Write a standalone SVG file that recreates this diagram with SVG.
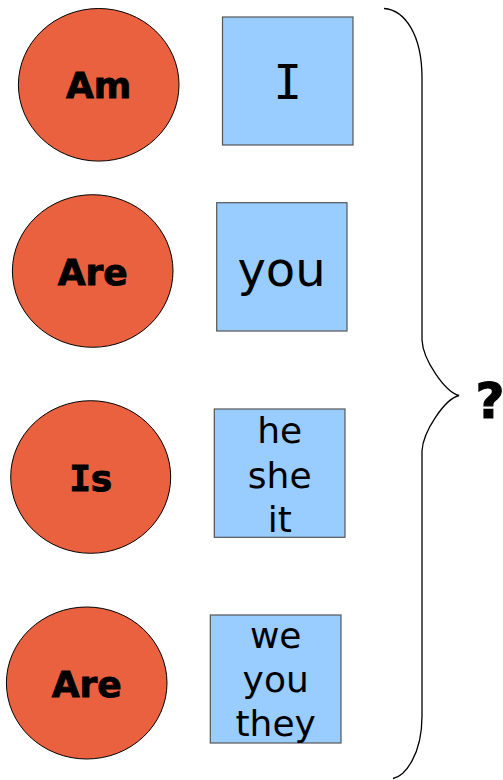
<svg xmlns="http://www.w3.org/2000/svg" width="503" height="780" viewBox="0 0 503 780">
<style>
.c{fill:#EA613F;stroke:#000;stroke-width:1}
.r{fill:#99CCFF;stroke:#555;stroke-width:1.2}
.v{font-family:"DejaVu Sans",Verdana,sans-serif;font-weight:bold;font-size:36px;text-anchor:middle;fill:#000;stroke:#000;stroke-width:0.9}
.p{font-family:"DejaVu Sans",Verdana,sans-serif;font-size:36px;text-anchor:middle;fill:#000}
.pl{font-size:48px}
.m{font-family:"DejaVu Sans Mono",monospace}
.br{fill:none;stroke:#000;stroke-width:1.3}
</style>
<rect width="503" height="780" fill="#fff"/>
<g id="verb-am"><ellipse class="c" cx="98.7" cy="84.8" rx="80.3" ry="76.3"/><text class="v" x="98.7" y="97.5">Am</text></g>
<g id="pron-i"><rect class="r" x="222.5" y="17" width="130.5" height="128"/><text class="p pl m" x="287.8" y="99.3">I</text></g>
<g id="verb-are1"><ellipse class="c" cx="92.7" cy="271" rx="80.3" ry="76.3"/><text class="v" x="92.7" y="284.5">Are</text></g>
<g id="pron-you"><rect class="r" x="216.7" y="202.7" width="130.3" height="128.3"/><text class="p pl" x="281.5" y="286">you</text></g>
<g id="verb-is"><ellipse class="c" cx="90.7" cy="477" rx="80" ry="76.3"/><text class="v" x="90.7" y="491"><tspan class="m">I</tspan>s</text></g>
<g id="pron-he"><rect class="r" x="214.3" y="409" width="130.7" height="128.3"/><text class="p" x="279.7" y="443">he</text><text class="p" x="279.7" y="487.5">she</text><text class="p" x="279.7" y="532">it</text></g>
<g id="verb-are2"><ellipse class="c" cx="86.7" cy="683" rx="80.3" ry="76"/><text class="v" x="86.7" y="697">Are</text></g>
<g id="pron-we"><rect class="r" x="210.3" y="615" width="130.7" height="128"/><text class="p" x="275.7" y="648">we</text><text class="p" x="275.7" y="692">you</text><text class="p" x="275.7" y="736">they</text></g>
<g id="connectors"><path class="br" d="M384,8.5 C405,10 422,35 422,78 L422,340 C423,360 445,392 459,395.5 C445,399 423,431 422,451 L422,716 C422,755 405,776 393,778.5"/></g>
<g id="question"><text class="v" style="font-size:50px;stroke-width:1.2" x="490" y="418">?</text></g>
</svg>
